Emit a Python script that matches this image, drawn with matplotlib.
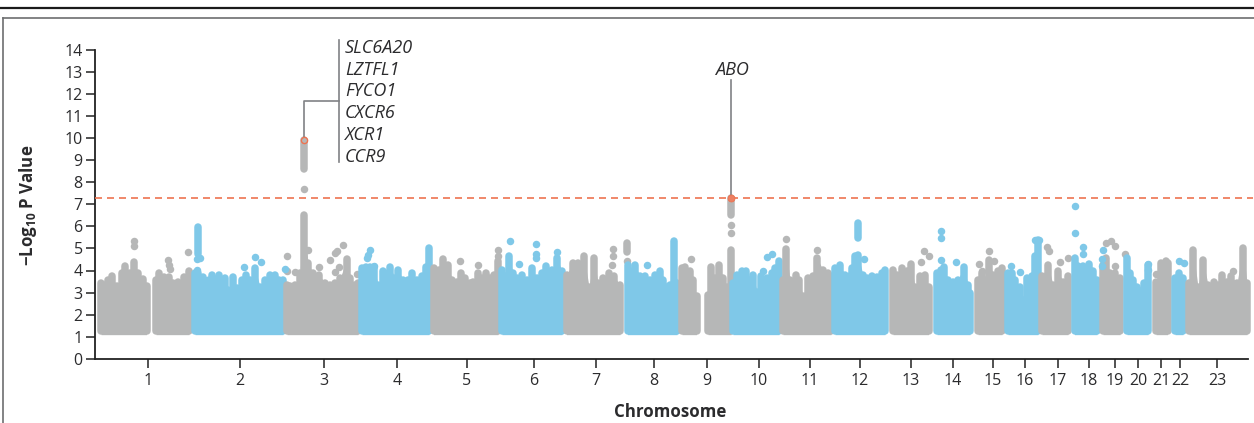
# Manhattan plot: -log10 P by chromosome
import matplotlib
matplotlib.use('Agg')
import matplotlib.pyplot as plt
from matplotlib.lines import Line2D

W, H = 1254, 423
GRAY = '#b6b7b7'
BLUE = '#7fc8e8'
ORANGE = '#ee7350'
LEAD = '#808285'
INK = '#2b2b2d'

plt.rcParams['font.family'] = ['Open Sans', 'DejaVu Sans']
plt.rcParams['mathtext.default'] = 'regular'

# ---- data: upper edge of the dense mass (position, -log10 P) ----
chrom_ticks = [148, 240, 324, 397, 467, 534, 596, 654, 707, 759, 810, 860,
               911, 953, 993, 1025, 1058, 1089, 1115, 1138, 1161, 1180, 1217]
chrom_labels = [str(i) for i in range(1, 24)]
y_ticks = list(range(0, 15))
threshold = 7.27

g1a_x = [101, 105, 108, 112, 117, 122, 125, 130, 134, 138, 143, 146.5]
g1a_y = [3.43, 3.35, 3.58, 3.73, 3.28, 3.88, 4.2, 3.88, 4.37, 3.88, 3.6, 3.28]
g1b_x = [156, 159, 164, 169, 173, 178, 184, 189]
g1b_y = [3.58, 3.88, 3.7, 3.7, 3.43, 3.5, 3.7, 3.96]
b2_x = [195, 198, 203, 212, 219, 225, 228, 233, 237, 242, 246, 250, 255, 260, 265, 270, 275, 279, 283]
b2_y = [3.88, 3.9, 3.7, 3.8, 3.8, 3.65, 3.1, 3.7, 3.2, 3.58, 3.8, 3.58, 4.1, 3.27, 3.58, 3.8, 3.8, 3.58, 3.58]
g3_x = [287, 290, 295, 300, 303.5, 308, 313, 319, 325, 330, 335, 340, 347, 350, 355, 358]
g3_y = [3.35, 3.3, 3.35, 3.88, 6.53, 4.34, 3.88, 3.8, 3.43, 3.35, 3.43, 3.65, 4.5, 3.65, 3.35, 3.43]
b4_x = [362, 366, 370, 374, 378, 383, 390, 395, 398, 403, 408, 412, 417, 422, 426, 429]
b4_y = [4.1, 4.18, 4.18, 4.18, 3.35, 3.96, 4.18, 3.65, 4.03, 3.58, 3.58, 3.88, 3.58, 3.73, 4.18, 5.02]
g5_x = [433.5, 439, 443, 448, 452, 457, 461, 465, 470, 473, 478, 482, 486, 490, 494, 498]
g5_y = [4.1, 4.03, 4.52, 4.26, 3.58, 3.5, 3.88, 3.65, 3.43, 3.5, 3.88, 3.65, 3.88, 3.65, 3.8, 4.41]
b6_x = [502, 505, 509, 513, 517, 522, 527, 532, 537, 542, 546, 552, 557, 562]
b6_y = [4.03, 3.73, 4.64, 3.88, 3.65, 3.8, 3.58, 4.1, 3.65, 3.88, 4.22, 4.03, 4.56, 3.96]
g7_x = [566.5, 573, 578, 584, 589, 594, 598, 603, 609, 614, 620]
g7_y = [3.8, 4.34, 4.34, 4.64, 3.27, 4.56, 3.43, 3.65, 3.88, 3.73, 3.35]
b8_x = [627.5, 630, 635, 640, 645, 650, 655, 660, 663, 667, 670, 673.5, 677]
b8_y = [4.26, 3.96, 4.26, 3.73, 3.73, 3.58, 3.8, 3.96, 3.58, 3.27, 3.35, 5.32, 3.43]
g9a_x = [682, 685, 690, 693, 696.5]
g9a_y = [4.1, 4.18, 3.96, 3.58, 2.83]
g9b_x = [708, 711, 715, 719, 723, 727, 731]
g9b_y = [2.9, 4.18, 3.65, 4.26, 3.65, 3.27, 4.91]
b10_x = [733, 737, 742, 746, 750, 753, 757, 761, 767, 772, 775, 779]
b10_y = [3.43, 3.8, 3.96, 3.96, 3.58, 3.8, 3.03, 3.73, 3.65, 3.88, 4.1, 4.41]
g11_x = [783, 786, 790, 796, 799, 803, 808, 813, 817, 823, 828, 831]
g11_y = [3.58, 4.97, 3.58, 3.8, 3.58, 2.83, 3.65, 3.73, 4.56, 4.03, 3.88, 3.73]
b12_x = [835, 840, 845, 852, 855, 858, 863, 867, 872, 877, 882, 885]
b12_y = [4.1, 4.26, 3.8, 4.1, 4.64, 4.72, 3.8, 3.65, 3.73, 3.7, 3.88, 4.03]
g13_x = [893, 897, 902, 907, 911, 915, 920, 925, 928.5]
g13_y = [4.03, 3.8, 4.1, 3.96, 4.3, 3.27, 3.73, 3.8, 3.27]
b14_x = [937, 941, 944, 948, 953, 958, 964, 968, 970]
b14_y = [3.88, 4.03, 4.14, 3.58, 3.5, 3.58, 4.18, 3.35, 2.97]
g15_x = [978, 982, 985, 989, 993, 998, 1002]
g15_y = [3.58, 3.88, 3.58, 4.49, 3.8, 3.96, 4.1]
b16_x = [1008, 1012, 1015, 1020, 1023, 1027, 1032, 1035, 1038]
b16_y = [3.88, 3.88, 3.58, 3.27, 2.67, 3.65, 3.73, 4.64, 5.4]
g17_x = [1042, 1048, 1053, 1058, 1063, 1068]
g17_y = [3.73, 4.26, 3.35, 3.96, 3.5, 3.73]
b18_x = [1074.5, 1078, 1083, 1089, 1093, 1097]
b18_y = [4.56, 4.2, 4.22, 4.3, 3.96, 3.58]
g19_x = [1103, 1106, 1110, 1115, 1120]
g19_y = [4.26, 4.56, 3.88, 3.88, 3.65]
b20_x = [1127, 1130, 1133, 1137, 1140, 1144, 1148]
b20_y = [4.56, 3.88, 3.58, 3.27, 3.05, 3.43, 4.26]
g21_x = [1156, 1161, 1166, 1167.5]
g21_y = [3.5, 4.34, 4.41, 4.34]
b22_x = [1175, 1179, 1183]
b22_y = [3.65, 3.88, 3.65]
g23_x = [1189, 1193, 1198, 1203, 1208, 1214, 1218, 1222, 1227, 1231, 1237, 1243, 1247]
g23_y = [3.43, 4.94, 3.27, 4.49, 3.35, 3.5, 3.35, 3.8, 3.5, 3.73, 3.43, 5.02, 3.43]

# single SNPs standing clear of the mass
gray_pts_x = [134, 134, 168, 169, 170, 188, 287, 287, 295, 308, 319, 330, 335, 337, 343, 335, 339, 357,
              303.5, 460, 478, 498, 498, 613, 613, 612, 627,
              691, 731, 731, 786, 817, 921, 924, 929, 979, 982, 989, 994,
              1047, 1049, 1060, 1068, 1106, 1111, 1115, 1115, 1125, 1156, 1233]
gray_pts_y = [5.32, 5.09, 4.46, 4.26, 4.06, 4.85, 4.64, 3.96, 3.93, 4.91, 4.14, 4.49, 4.79, 4.9, 5.14, 3.93, 4.18, 3.85,
              7.7, 4.41, 4.25, 4.91, 4.64, 4.99, 4.64, 4.23, 4.41,
              4.52, 6.08, 5.7, 5.43, 4.93, 4.38, 4.87, 4.64, 4.31, 4.0, 4.87, 4.41,
              5.06, 4.9, 4.4, 4.56, 5.25, 5.35, 5.09, 4.22, 4.76, 3.85, 3.96]
blue_pts_x = [200, 197, 197, 244, 255, 261, 285, 370, 368, 367, 374,
              510, 519, 536, 536, 536, 557, 647, 767, 772, 763, 864,
              941, 941, 941, 956, 1011, 1020, 1039, 1035, 1075, 1075, 1083, 1083,
              1103, 1102, 1102, 1148, 1148, 1179, 1184]
blue_pts_y = [4.56, 4.5, 4.03, 4.14, 4.6, 4.37, 4.06, 4.94, 4.72, 4.56, 4.22,
              5.34, 4.29, 5.22, 4.75, 4.56, 4.82, 4.26, 4.6, 4.75, 3.96, 4.54,
              5.81, 5.47, 4.49, 4.38, 4.19, 3.92, 5.4, 5.4, 6.94, 5.7, 5.05, 4.75,
              4.91, 4.52, 4.2, 4.31, 4.03, 4.43, 4.34]

# tight columns of SNPs that merge into one stroke: position, lowest, highest
gray_col_x = [303.5, 731, 627]
gray_col_lo = [8.6, 6.5, 4.85]
gray_col_hi = [9.9, 7.27, 5.25]
blue_col_x = [198.3, 858]
blue_col_lo = [4.75, 5.47]
blue_col_hi = [5.96, 6.15]

hit_x = [303.5, 731]
hit_y = [9.93, 7.27]
genes_chr3 = ['SLC6A20', 'LZTFL1', 'FYCO1', 'CXCR6', 'XCR1', 'CCR9']
genes_chr3_y = [14.08, 13.08, 12.12, 11.13, 10.15, 9.15]

blocks = [(g1a_x, g1a_y, GRAY), (g1b_x, g1b_y, GRAY), (b2_x, b2_y, BLUE), (g3_x, g3_y, GRAY),
          (b4_x, b4_y, BLUE), (g5_x, g5_y, GRAY), (b6_x, b6_y, BLUE), (g7_x, g7_y, GRAY),
          (b8_x, b8_y, BLUE), (g9a_x, g9a_y, GRAY), (g9b_x, g9b_y, GRAY), (b10_x, b10_y, BLUE),
          (g11_x, g11_y, GRAY), (b12_x, b12_y, BLUE), (g13_x, g13_y, GRAY), (b14_x, b14_y, BLUE),
          (g15_x, g15_y, GRAY), (b16_x, b16_y, BLUE), (g17_x, g17_y, GRAY), (b18_x, b18_y, BLUE),
          (g19_x, g19_y, GRAY), (b20_x, b20_y, BLUE), (g21_x, g21_y, GRAY), (b22_x, b22_y, BLUE),
          (g23_x, g23_y, GRAY)]

# ---- figure ----
fig = plt.figure(figsize=(W / 100, H / 100), dpi=100)
ax = fig.add_axes([94.5 / W, 1 - 358.7 / H, (1247.7 - 94.5) / W, (358.7 - 50) / H])
ax.set_xlim(94.5, 1247.7)
ax.set_ylim(0, 14)

# the thin journal frame around the panel
fig.add_artist(Line2D([0, 1], [1 - 8 / H] * 2, color='#1a1a1a', lw=1.6))
fig.add_artist(Line2D([2.5 / W, 1], [1 - 18 / H] * 2, color='#6d6e70', lw=1.2))
fig.add_artist(Line2D([2.5 / W, 2.5 / W], [0, 1 - 18 / H], color='#6d6e70', lw=1.2))

BASE = 1.25
DOT_LW = 5.4
for xs, ys, col in blocks:
    ax.fill_between(xs, 1.09, ys, color=col, lw=0, clip_on=False, zorder=2)
    ax.vlines(xs, BASE, ys, color=col, lw=DOT_LW, capstyle='round', clip_on=False, zorder=2)

ax.vlines(gray_col_x, gray_col_lo, gray_col_hi, color=GRAY, lw=DOT_LW, capstyle='round', zorder=1.5)
ax.vlines(blue_col_x, blue_col_lo, blue_col_hi, color=BLUE, lw=DOT_LW, capstyle='round', zorder=2.5)
ax.scatter(gray_pts_x, gray_pts_y, s=DOT_LW ** 2, color=GRAY, linewidths=0, clip_on=False, zorder=1.5)
ax.scatter(blue_pts_x, blue_pts_y, s=DOT_LW ** 2, color=BLUE, linewidths=0, clip_on=False, zorder=2.5)

# genome-wide significance line
ax.plot([94.5, 1253], [threshold, threshold], color=ORANGE, lw=1.2, dashes=(4.2, 3.0), clip_on=False, zorder=3)

# leader lines
ax.plot([339, 339], [8.9, 14.44], color=LEAD, lw=1.2, clip_on=False, zorder=3)
ax.plot([339, 303.5, 303.5], [11.67, 11.67, hit_y[0]], color=LEAD, lw=1.2, zorder=3)
ax.plot([hit_x[1], hit_x[1]], [hit_y[1], 12.63], color=LEAD, lw=1.2, zorder=3)

ax.scatter(hit_x[:1], hit_y[:1], s=20, facecolor=GRAY, edgecolor=ORANGE, linewidths=1.0, zorder=4)
ax.scatter(hit_x[1:], hit_y[1:], s=25, facecolor='#ec7f62', edgecolor=ORANGE, linewidths=0.6, zorder=4)

for name, y in zip(genes_chr3, genes_chr3_y):
    ax.text(345, y, name, style='italic', fontsize=13, color=INK, va='center', ha='left', clip_on=False)
ax.text(731.5, 13.08, 'ABO', style='italic', fontsize=13, color=INK, va='center', ha='center')

# axes
for side in ['top', 'right']:
    ax.spines[side].set_visible(False)
for side in ['left', 'bottom']:
    ax.spines[side].set_linewidth(1.3)
    ax.spines[side].set_color('#222222')
ax.set_yticks(y_ticks)
ax.set_xticks(chrom_ticks)
ax.set_xticklabels(chrom_labels)
ax.tick_params(axis='both', direction='out', length=6.5, width=1.1, color='#222222',
               labelsize=11.5, labelcolor=INK)
ax.tick_params(axis='x', pad=4)
ax.tick_params(axis='y', pad=2)

fig.text(28 / W, 1 - 205 / H, '\u2212Log$_{10}$ P Value', rotation=90, fontsize=12.2, fontweight='bold',
         color=INK, ha='center', va='center')
fig.text(670 / W, 1 - 412 / H, 'Chromosome', fontsize=12.2, fontweight='bold',
         color=INK, ha='center', va='center')

fig.savefig('out.png', dpi=100)
